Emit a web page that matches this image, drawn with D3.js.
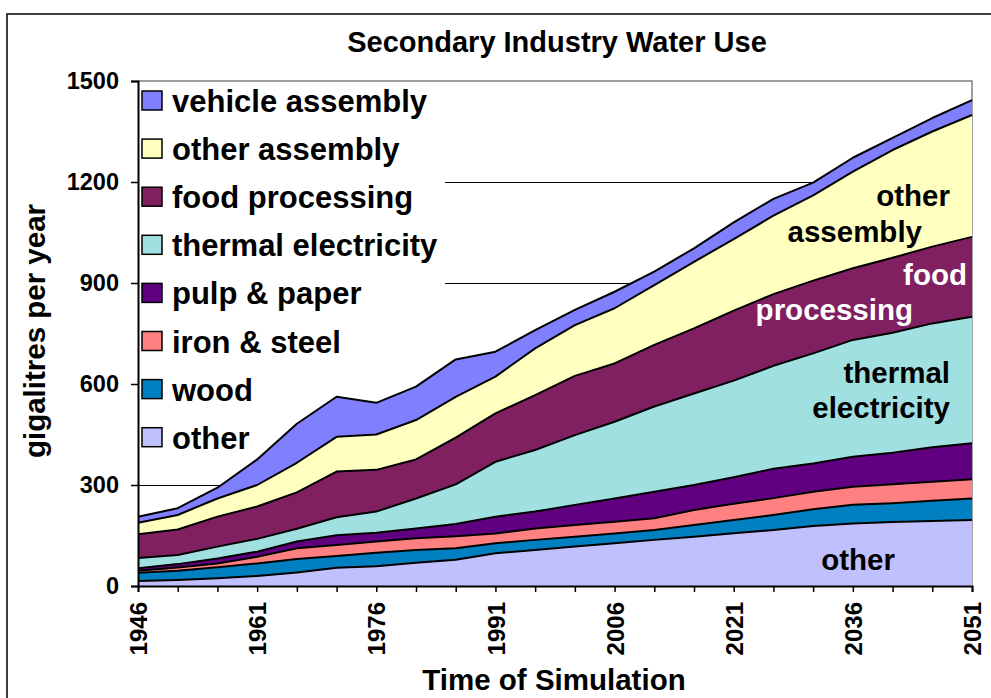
<!DOCTYPE html>
<html>
<head>
<meta charset="utf-8">
<script src="https://cdn.jsdelivr.net/npm/d3@7"></script>
<style>
body { margin: 0; background: #fff; }
text { font-family: "Liberation Sans", Arial, sans-serif; font-weight: bold; }
</style>
</head>
<body>
<script>
// years simulated, every 5 years
var years = [1946, 1951, 1956, 1961, 1966, 1971, 1976, 1981, 1986, 1991, 1996,
	2001, 2006, 2011, 2016, 2021, 2026, 2031, 2036, 2041, 2046, 2051];

// gigalitres per year
var other = [15, 18, 23, 30, 40, 54, 59, 69, 78, 97, 107, 117, 127, 137, 146, 157, 166, 178, 186, 190, 193, 196];
var wood = [24, 27, 33, 37, 40, 35, 40, 38, 34, 30, 30, 29, 29, 29, 35, 39, 45, 50, 55, 56, 60, 64];
var ironSteel = [6, 10, 11, 20, 32, 33, 33, 35, 36, 29, 34, 35, 35, 35, 45, 48, 50, 52, 54, 56, 57, 57];
var pulpPaper = [8, 10, 15, 15, 20, 29, 26, 29, 36, 50, 50, 60, 69, 79, 74, 79, 87, 84, 89, 94, 102, 107];
var thermal = [30, 27, 35, 38, 38, 53, 63, 89, 118, 163, 183, 207, 228, 253, 272, 287, 306, 327, 347, 356, 368, 376];
var food = [71, 76, 89, 96, 108, 136, 124, 116, 139, 144, 163, 176, 173, 183, 193, 208, 213, 216, 213, 223, 228, 237];
var otherAssembly = [34, 43, 54, 64, 88, 103, 105, 117, 121, 109, 139, 151, 164, 178, 198, 212, 233, 253, 287, 320, 342, 362];
var vehicle = [18, 20, 32, 76, 116, 119, 94, 99, 111, 74, 54, 45, 49, 40, 40, 50, 50, 38, 41, 36, 40, 44];

var keys = ["other", "wood", "iron", "pulp", "thermal", "food", "oasm", "vehicle"];
var names = ["other", "wood", "iron & steel", "pulp & paper", "thermal electricity",
	"food processing", "other assembly", "vehicle assembly"];
var colors = ["#c0c0ff", "#0080c0", "#ff8080", "#600080", "#a0e0e0", "#802060", "#ffffc0", "#8080ff"];
var yTicks = [0, 300, 600, 900, 1200, 1500];

var table = years.map(function(y, i) {
	return {
		year: y, other: other[i], wood: wood[i], iron: ironSteel[i], pulp: pulpPaper[i],
		thermal: thermal[i], food: food[i], oasm: otherAssembly[i], vehicle: vehicle[i]
	};
});

var w = 991;
var h = 698;

var svg = d3.select("body")
	.append("svg")
	.attr("width", w)
	.attr("height", h);

var x = d3.scaleLinear().domain([1946, 2051]).range([138, 972]);
var y = d3.scaleLinear().domain([0, 1500]).range([586, 81]);

// outer frame (runs off the picture)
svg.append("path")
	.attr("d", "M7," + h + "V14H" + w)
	.attr("fill", "none")
	.attr("stroke", "#000")
	.attr("stroke-width", 1.5);

// title
svg.append("text")
	.attr("x", 557)
	.attr("y", 52)
	.attr("text-anchor", "middle")
	.attr("font-size", 29)
	.text("Secondary Industry Water Use");

// gridlines
svg.selectAll(".grid")
	.data(yTicks.slice(1, 5))
	.enter()
	.append("line")
	.attr("x1", 138)
	.attr("x2", 972)
	.attr("y1", function(d) { return Math.round(y(d)) + 0.5; })
	.attr("y2", function(d) { return Math.round(y(d)) + 0.5; })
	.attr("stroke", "#000")
	.attr("stroke-width", 1);

// plot border
svg.append("path")
	.attr("d", "M138," + y(1500) + "H972V" + y(0))
	.attr("fill", "none")
	.attr("stroke", "#808080")
	.attr("stroke-width", 1.5);

// legend background
svg.append("rect")
	.attr("x", 139)
	.attr("y", 82)
	.attr("width", 306)
	.attr("height", 376)
	.attr("fill", "#fff");

var stack = d3.stack().keys(keys);
var series = stack(table);

var area = d3.area()
	.x(function(d) { return x(d.data.year); })
	.y0(function(d) { return y(d[0]); })
	.y1(function(d) { return y(d[1]); });

var line = d3.line()
	.x(function(d) { return x(d.data.year); })
	.y(function(d) { return y(d[1]); });

svg.selectAll(".layer")
	.data(series)
	.enter()
	.append("path")
	.attr("d", area)
	.attr("fill", function(d, i) { return colors[i]; });

svg.selectAll(".edge")
	.data(series)
	.enter()
	.append("path")
	.attr("d", line)
	.attr("fill", "none")
	.attr("stroke", "#000")
	.attr("stroke-width", 2)
	.attr("stroke-linejoin", "round");

// legend, top entry is the top layer
var legendOrder = d3.range(keys.length).reverse();
var leg = svg.selectAll(".leg")
	.data(legendOrder)
	.enter()
	.append("g")
	.attr("transform", function(d, i) { return "translate(142," + (101 + i * 48.1) + ")"; });

leg.append("rect")
	.attr("x", 0)
	.attr("y", -10)
	.attr("width", 20)
	.attr("height", 19)
	.attr("fill", function(d) { return colors[d]; })
	.attr("stroke", "#000")
	.attr("stroke-width", 1.5);

leg.append("text")
	.attr("x", 30)
	.attr("y", 11)
	.attr("font-size", 31)
	.text(function(d) { return names[d]; });

// labels on the areas
var areaLabels = [
	{ t: "other", x: 950, y: 206, c: "#000" },
	{ t: "assembly", x: 922, y: 242, c: "#000" },
	{ t: "food", x: 967, y: 285, c: "#fff" },
	{ t: "processing", x: 913, y: 320, c: "#fff" },
	{ t: "thermal", x: 950, y: 383, c: "#000" },
	{ t: "electricity", x: 950, y: 418, c: "#000" },
	{ t: "other", x: 895, y: 570, c: "#000" }
];
svg.selectAll(".alab")
	.data(areaLabels)
	.enter()
	.append("text")
	.attr("x", function(d) { return d.x; })
	.attr("y", function(d) { return d.y; })
	.attr("text-anchor", "end")
	.attr("font-size", 29.5)
	.attr("fill", function(d) { return d.c; })
	.text(function(d) { return d.t; });

// axes
var xAxis = d3.axisBottom(x)
	.tickValues(years)
	.tickSize(6)
	.tickFormat(function(d) { return (d - 1946) % 15 == 0 ? d : ""; });

var gx = svg.append("g")
	.attr("transform", "translate(0," + y(0) + ")")
	.call(xAxis);
gx.select(".domain").attr("stroke-width", 2);
gx.selectAll("line").attr("stroke-width", 1.5);
gx.selectAll("text")
	.attr("transform", "rotate(-90)")
	.attr("x", -16)
	.attr("y", 0)
	.attr("dy", "0.36em")
	.attr("text-anchor", "end")
	.attr("font-size", 24)
	.attr("font-family", "Liberation Sans, Arial, sans-serif")
	.attr("font-weight", "bold")
	.attr("fill", "#000");

var yAxis = d3.axisLeft(y)
	.tickValues(yTicks)
	.tickSize(7)
	.tickPadding(12)
	.tickFormat(d3.format("d"));

var gy = svg.append("g")
	.attr("transform", "translate(138,0)")
	.call(yAxis);
gy.select(".domain").attr("stroke-width", 2);
gy.selectAll("line").attr("stroke-width", 1.5);
gy.selectAll("text")
	.attr("font-size", 23.5)
	.attr("font-family", "Liberation Sans, Arial, sans-serif")
	.attr("font-weight", "bold")
	.attr("fill", "#000");

// axis titles
svg.append("text")
	.attr("transform", "translate(45,331) rotate(-90)")
	.attr("text-anchor", "middle")
	.attr("font-size", 29.5)
	.text("gigalitres per year");

svg.append("text")
	.attr("x", 554)
	.attr("y", 690)
	.attr("text-anchor", "middle")
	.attr("font-size", 29.5)
	.text("Time of Simulation");
</script>
</body>
</html>
